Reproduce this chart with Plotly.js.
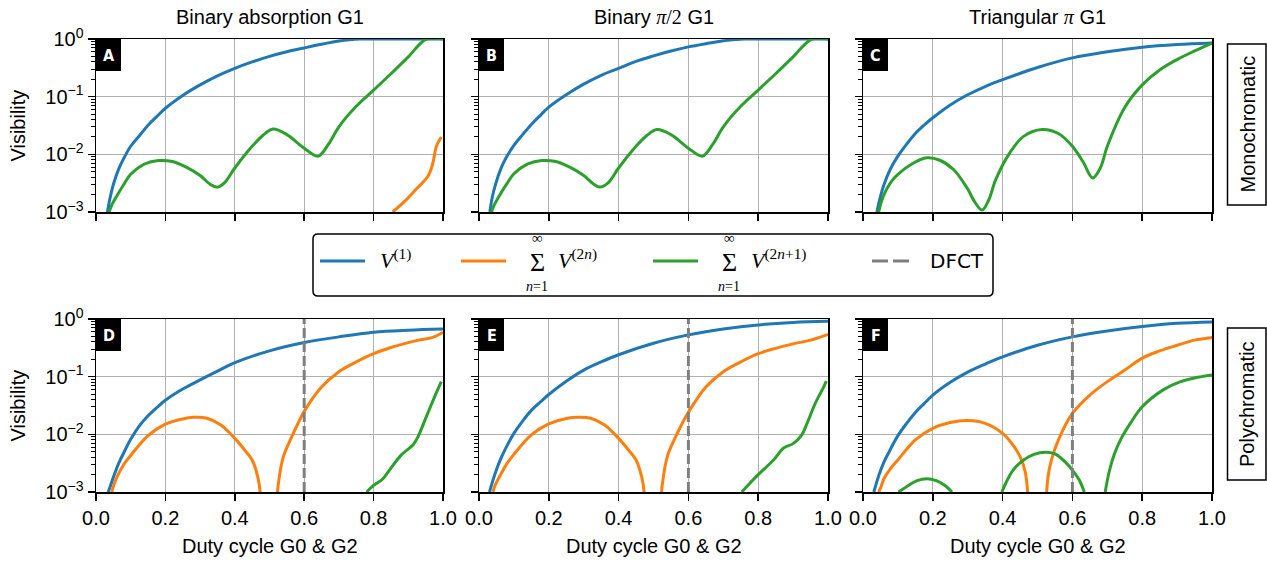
<!DOCTYPE html>
<html>
<head>
<meta charset="utf-8">
<script src="https://cdn.plot.ly/plotly-3.0.1.min.js"></script>
<style>html,body{margin:0;padding:0;background:#fff;}#chart{width:1267px;height:565px;}</style>
</head>
<body>
<div id="chart"></div>
<script>
// ---------------- data ----------------
const columnTitles = ['Binary absorption G1', 'Binary <span style="font-family:Liberation Serif"><i>π</i>/2</span> G1', 'Triangular <span style="font-family:Liberation Serif"><i>π</i></span> G1'];
const rowLabels = ['Monochromatic', 'Polychromatic'];
const panelLetters = ['A', 'B', 'C', 'D', 'E', 'F'];
const xTickVals = [0, 0.2, 0.4, 0.6, 0.8, 1.0];
const yTickVals = [0.001, 0.01, 0.1, 1];
const yTickText = ['10<sup>−3</sup>', '10<sup>−2</sup>', '10<sup>−1</sup>', '10<sup>0</sup>'];
const yMinorTicks = [0.002,0.003,0.004,0.005,0.006,0.007,0.008,0.009,0.02,0.03,0.04,0.05,0.06,0.07,0.08,0.09,0.2,0.3,0.4,0.5,0.6,0.7,0.8,0.9];
const visRange = [0.001, 1];
const dfct = 0.6;

// Panel A
const A_V1_x = [0.033,0.04,0.05,0.065,0.08,0.1,0.125,0.15,0.175,0.2,0.25,0.3,0.35,0.4,0.45,0.5,0.55,0.6,0.65,0.7,0.73,0.76,0.85,1.0];
const A_V1_y = [0.001,0.0017,0.003,0.0055,0.0085,0.0138,0.021,0.032,0.045,0.063,0.105,0.16,0.23,0.31,0.40,0.50,0.60,0.70,0.81,0.92,0.97,1.0,1.0,1.0];
const A_even_x = [0.855,0.89,0.923,0.957,0.971,0.981,0.995];
const A_even_y = [0.001,0.00154,0.0025,0.0042,0.0071,0.0138,0.02];
const A_odd_x = [0.038,0.045,0.06,0.08,0.1,0.14,0.18,0.22,0.26,0.3,0.33,0.35,0.37,0.4,0.45,0.48,0.51,0.55,0.6,0.64,0.67,0.7,0.75,0.8,0.85,0.9,0.952,1.0];
const A_odd_y = [0.001,0.0013,0.0019,0.003,0.0045,0.0068,0.0078,0.0075,0.006,0.0043,0.003,0.0027,0.0032,0.0058,0.0138,0.021,0.0275,0.022,0.0128,0.0093,0.015,0.03,0.068,0.13,0.25,0.49,1.0,1.0];
// Panel B
const B_V1_x = [0.031,0.038,0.048,0.063,0.078,0.1,0.125,0.15,0.175,0.2,0.25,0.3,0.35,0.4,0.45,0.5,0.55,0.6,0.65,0.7,0.73,0.76,0.85,1.0];
const B_V1_y = [0.001,0.0018,0.0031,0.0057,0.0088,0.0143,0.022,0.033,0.047,0.066,0.108,0.165,0.235,0.31,0.41,0.51,0.62,0.73,0.83,0.93,0.97,1.0,1.0,1.0];
const B_odd_x = [0.036,0.043,0.06,0.08,0.1,0.14,0.18,0.22,0.26,0.3,0.33,0.345,0.37,0.4,0.45,0.48,0.51,0.55,0.6,0.64,0.67,0.7,0.75,0.8,0.85,0.9,0.954,1.0];
const B_odd_y = [0.001,0.0013,0.002,0.0031,0.0046,0.0068,0.0078,0.0075,0.006,0.0043,0.003,0.0027,0.0032,0.0058,0.0138,0.021,0.027,0.022,0.0128,0.0093,0.015,0.03,0.068,0.13,0.25,0.49,1.0,1.0];
// Panel C
const C_V1_x = [0.04,0.045,0.055,0.065,0.08,0.1,0.125,0.15,0.175,0.2,0.25,0.3,0.35,0.4,0.5,0.6,0.7,0.8,0.9,1.0];
const C_V1_y = [0.001,0.0014,0.0024,0.0036,0.0058,0.0093,0.015,0.023,0.032,0.043,0.072,0.108,0.15,0.197,0.32,0.47,0.60,0.72,0.80,0.85];
const C_odd_x = [0.045,0.051,0.06,0.08,0.1,0.14,0.183,0.22,0.26,0.3,0.32,0.341,0.36,0.38,0.42,0.46,0.513,0.56,0.6,0.63,0.658,0.68,0.7,0.75,0.8,0.85,0.9,0.95,1.0];
const C_odd_y = [0.001,0.0014,0.002,0.0033,0.0045,0.0068,0.0087,0.0079,0.0054,0.0025,0.0015,0.00108,0.0016,0.0036,0.0105,0.0205,0.027,0.023,0.0138,0.0075,0.0039,0.0058,0.0138,0.065,0.16,0.29,0.44,0.62,0.85];
// Panel D
const D_V1_x = [0.035,0.042,0.05,0.065,0.08,0.1,0.125,0.15,0.175,0.2,0.25,0.3,0.35,0.4,0.5,0.6,0.7,0.8,0.9,1.0];
const D_V1_y = [0.001,0.0013,0.0018,0.0031,0.0048,0.0082,0.014,0.021,0.029,0.039,0.061,0.088,0.125,0.175,0.28,0.39,0.49,0.59,0.64,0.67];
const D_even_x = [0.045,0.051,0.06,0.08,0.1,0.15,0.2,0.25,0.28,0.32,0.36,0.4,0.43,0.45,0.46,0.47,0.479,null,0.519,0.525,0.54,0.56,0.58,0.6,0.65,0.7,0.75,0.8,0.85,0.9,0.93,0.97,1.0];
const D_even_y = [0.001,0.0013,0.0018,0.003,0.0043,0.0095,0.015,0.0185,0.0197,0.019,0.0145,0.0085,0.0052,0.0036,0.0025,0.0014,0.0003,null,0.0003,0.0013,0.0041,0.008,0.0145,0.025,0.066,0.122,0.18,0.25,0.32,0.39,0.43,0.48,0.59];
const D_odd_x = [0.78,0.8,0.827,0.85,0.88,0.914,0.928,0.952,0.976,0.995];
const D_odd_y = [0.001,0.0013,0.0017,0.0026,0.0044,0.0066,0.0091,0.0203,0.045,0.082];
// Panel E
const E_V1_x = [0.03,0.037,0.045,0.06,0.075,0.1,0.125,0.15,0.175,0.2,0.25,0.3,0.35,0.4,0.5,0.6,0.7,0.8,0.9,1.0];
const E_V1_y = [0.001,0.0014,0.002,0.0035,0.0055,0.0104,0.017,0.026,0.036,0.049,0.083,0.13,0.18,0.24,0.38,0.53,0.67,0.79,0.87,0.91];
const E_even_x = [0.04,0.046,0.06,0.08,0.1,0.15,0.2,0.25,0.285,0.32,0.36,0.4,0.43,0.45,0.46,0.47,0.479,null,0.519,0.525,0.54,0.56,0.58,0.6,0.65,0.7,0.75,0.8,0.85,0.9,0.95,1.0];
const E_even_y = [0.001,0.0013,0.0019,0.0031,0.0045,0.0098,0.0152,0.0188,0.0197,0.019,0.0145,0.0085,0.0052,0.0036,0.0025,0.0014,0.0003,null,0.0003,0.0013,0.0042,0.0082,0.0145,0.024,0.066,0.122,0.18,0.25,0.31,0.37,0.43,0.54];
const E_odd_x = [0.753,0.77,0.8,0.844,0.873,0.9,0.925,0.94,0.964,0.988,0.995];
const E_odd_y = [0.001,0.0013,0.002,0.0036,0.0058,0.0069,0.0098,0.0155,0.035,0.067,0.084];
// Panel F
const F_V1_x = [0.031,0.038,0.046,0.06,0.075,0.1,0.125,0.15,0.175,0.2,0.25,0.3,0.35,0.4,0.5,0.6,0.7,0.8,0.9,1.0];
const F_V1_y = [0.001,0.0014,0.002,0.0033,0.005,0.0095,0.0155,0.024,0.034,0.048,0.08,0.12,0.165,0.22,0.35,0.49,0.62,0.74,0.84,0.89];
const F_even_x = [0.045,0.051,0.06,0.08,0.1,0.15,0.2,0.25,0.3,0.35,0.4,0.43,0.45,0.465,0.477,null,0.522,0.53,0.54,0.56,0.6,0.65,0.7,0.75,0.8,0.85,0.9,0.95,1.0];
const F_even_y = [0.001,0.0012,0.0017,0.0026,0.0036,0.008,0.0127,0.016,0.0173,0.0155,0.0104,0.0065,0.0041,0.0022,0.0003,null,0.0003,0.0018,0.0036,0.008,0.023,0.048,0.082,0.13,0.21,0.28,0.35,0.43,0.48];
const F_odd_x = [0.102,0.13,0.155,0.183,0.21,0.235,0.255,null,0.398,0.41,0.43,0.46,0.49,0.522,0.55,0.58,0.6,0.62,0.634,null,0.694,0.705,0.72,0.74,0.766,0.8,0.86,0.908,0.95,1.0];
const F_odd_y = [0.001,0.0013,0.00158,0.0017,0.00158,0.0013,0.001,null,0.001,0.00146,0.0024,0.0036,0.0045,0.0049,0.0046,0.0033,0.0024,0.0016,0.001,null,0.001,0.0022,0.0045,0.0085,0.0155,0.03,0.059,0.081,0.095,0.107];

// ---------------- build ----------------
const W = 1267, H = 565;
const C1 = '#1f77b4', C2 = '#ff7f0e', C3 = '#2ca02c', CG = '#7f7f7f';
const SANS = 'Liberation Sans, Arial, sans-serif';
const SERIF = 'Liberation Serif, DejaVu Serif, serif';
const colPx = [[96, 443], [479, 828], [863, 1212]];
const rowPx = [[39, 212], [319, 492]];
const px = x => x / W, py = y => 1 - y / H;

const panels = [
  {V1: [A_V1_x, A_V1_y], even: [A_even_x, A_even_y], odd: [A_odd_x, A_odd_y], dfct: false},
  {V1: [B_V1_x, B_V1_y], even: null, odd: [B_odd_x, B_odd_y], dfct: false},
  {V1: [C_V1_x, C_V1_y], even: null, odd: [C_odd_x, C_odd_y], dfct: false},
  {V1: [D_V1_x, D_V1_y], even: [D_even_x, D_even_y], odd: [D_odd_x, D_odd_y], dfct: true},
  {V1: [E_V1_x, E_V1_y], even: [E_even_x, E_even_y], odd: [E_odd_x, E_odd_y], dfct: true},
  {V1: [F_V1_x, F_V1_y], even: [F_even_x, F_even_y], odd: [F_odd_x, F_odd_y], dfct: true}
];

const traces = [];
const layout = {
  width: W, height: H, margin: {l: 0, r: 0, t: 0, b: 0},
  paper_bgcolor: '#fff', plot_bgcolor: '#fff', showlegend: false,
  font: {family: SANS, size: 20, color: '#000'},
  shapes: [], annotations: []
};

panels.forEach((p, i) => {
  const n = i + 1, sfx = n === 1 ? '' : String(n);
  const row = Math.floor(i / 3), col = i % 3;
  const xa = 'x' + sfx, ya = 'y' + sfx;
  const line = (c) => ({color: c, width: 3, shape: 'spline', smoothing: 1.0});
  traces.push({x: p.V1[0], y: p.V1[1], xaxis: xa, yaxis: ya, mode: 'lines', line: line(C1), connectgaps: false, hoverinfo: 'skip'});
  if (p.even) traces.push({x: p.even[0], y: p.even[1], xaxis: xa, yaxis: ya, mode: 'lines', line: line(C2), connectgaps: false, hoverinfo: 'skip'});
  if (p.odd) traces.push({x: p.odd[0], y: p.odd[1], xaxis: xa, yaxis: ya, mode: 'lines', line: line(C3), connectgaps: false, hoverinfo: 'skip'});
  if (p.dfct) traces.push({x: [dfct, dfct], y: visRange, xaxis: xa, yaxis: ya, mode: 'lines', line: {color: CG, width: 3, dash: '10px,4px'}, hoverinfo: 'skip'});

  layout['xaxis' + sfx] = {
    domain: [px(colPx[col][0]), px(colPx[col][1])], anchor: ya, range: [0, 1],
    tickmode: 'array', tickvals: xTickVals, tickformat: '.1f',
    showticklabels: row === 1, ticks: 'outside', ticklen: 7, tickwidth: 1.5, tickcolor: '#000',
    showline: true, linecolor: '#000', linewidth: 1.5, mirror: true,
    showgrid: true, gridcolor: '#b0b0b0', gridwidth: 1, zeroline: false,
    tickfont: {family: SANS, size: 20, color: '#000'}, fixedrange: true
  };
  layout['yaxis' + sfx] = {
    type: 'log', domain: [py(rowPx[row][1]), py(rowPx[row][0])], anchor: xa, range: [-3, 0],
    tickmode: 'array', tickvals: yTickVals, ticktext: yTickText,
    showticklabels: col === 0, ticks: 'outside', ticklen: 7, tickwidth: 1.5, tickcolor: '#000',
    minor: {tickmode: 'array', tickvals: yMinorTicks, ticks: 'outside', ticklen: 4, tickwidth: 1, tickcolor: '#000', showgrid: false},
    showline: true, linecolor: '#000', linewidth: 1.5, mirror: true,
    showgrid: true, gridcolor: '#b0b0b0', gridwidth: 1, zeroline: false,
    tickfont: {family: SANS, size: 20, color: '#000'}, fixedrange: true
  };
  // panel letter box
  const boxW = 25 / (colPx[col][1] - colPx[col][0]);
  const boxH = 32 / (rowPx[row][1] - rowPx[row][0]);
  layout.shapes.push({type: 'rect', xref: xa + ' domain', yref: ya + ' domain', x0: 0, x1: boxW, y0: 1 - boxH, y1: 1,
    fillcolor: '#000', line: {width: 0}, layer: 'above'});
  layout.annotations.push({xref: xa + ' domain', yref: ya + ' domain', x: boxW / 2, y: 1 - boxH / 2,
    text: '<b>' + panelLetters[i] + '</b>', showarrow: false, xanchor: 'center', yanchor: 'middle',
    font: {family: 'DejaVu Sans Condensed, DejaVu Sans, sans-serif', size: 16, color: '#fff'}});
});

// column titles and x titles
colPx.forEach((c, j) => {
  layout.annotations.push({xref: 'paper', yref: 'paper', x: px((c[0] + c[1]) / 2), y: py(17),
    text: columnTitles[j], showarrow: false, xanchor: 'center', yanchor: 'middle', font: {family: SANS, size: 20, color: '#000'}});
  layout.annotations.push({xref: 'paper', yref: 'paper', x: px((c[0] + c[1]) / 2), y: py(546),
    text: 'Duty cycle G0 &amp; G2', showarrow: false, xanchor: 'center', yanchor: 'middle', font: {family: SANS, size: 20, color: '#000'}});
});
// y titles
rowPx.forEach(r => {
  layout.annotations.push({xref: 'paper', yref: 'paper', x: px(17), y: py((r[0] + r[1]) / 2), textangle: -90,
    text: 'Visibility', showarrow: false, xanchor: 'center', yanchor: 'middle', font: {family: SANS, size: 20, color: '#000'}});
});
// row labels in boxes
const rowBoxes = [[44, 205], [328, 480]];
rowBoxes.forEach((b, k) => {
  layout.shapes.push({type: 'rect', xref: 'paper', yref: 'paper', x0: px(1227.5), x1: px(1266), y0: py(b[1]), y1: py(b[0]),
    line: {color: '#000', width: 1.5}, fillcolor: '#fff'});
  layout.annotations.push({xref: 'paper', yref: 'paper', x: px(1247), y: py((b[0] + b[1]) / 2), textangle: -90,
    text: rowLabels[k], showarrow: false, xanchor: 'center', yanchor: 'middle', font: {family: SANS, size: 20, color: '#000'}});
});

// legend box (rounded)
(function () {
  const x0 = 313, x1 = 993, y0 = 234, y1 = 296, r = 5;
  const P = (x, y) => px(x).toFixed(5) + ',' + py(y).toFixed(5);
  const path = 'M' + P(x0 + r, y0) + ' L' + P(x1 - r, y0) + ' Q' + P(x1, y0) + ' ' + P(x1, y0 + r) +
    ' L' + P(x1, y1 - r) + ' Q' + P(x1, y1) + ' ' + P(x1 - r, y1) + ' L' + P(x0 + r, y1) +
    ' Q' + P(x0, y1) + ' ' + P(x0, y1 - r) + ' L' + P(x0, y0 + r) + ' Q' + P(x0, y0) + ' ' + P(x0 + r, y0) + ' Z';
  layout.shapes.push({type: 'path', xref: 'paper', yref: 'paper', path: path, line: {color: '#000', width: 1.5}, fillcolor: '#fff'});
  const seg = (xa, xb, c, dash) => layout.shapes.push({type: 'line', xref: 'paper', yref: 'paper', x0: px(xa), x1: px(xb), y0: py(261), y1: py(261),
    line: {color: c, width: 3, dash: dash || 'solid'}});
  seg(320, 365, C1); seg(461, 506, C2); seg(653, 698, C3); seg(872, 913, CG, '16px,5px');
  const ann = (x, y, text, size, fam, anchor) => layout.annotations.push({xref: 'paper', yref: 'paper', x: px(x), y: py(y), text: text,
    showarrow: false, xanchor: anchor || 'left', yanchor: 'middle', font: {family: fam, size: size, color: '#000'}});
  ann(378, 259, '<i>V</i><sup>(1)</sup>', 22, SERIF);
  [537, 729].forEach(cx => {
    ann(cx, 238, '∞', 15, SERIF, 'center');
    ann(cx, 262, 'Σ', 26, SERIF, 'center');
    ann(cx, 286, '<i>n</i>=1', 14, SERIF, 'center');
  });
  ann(556, 259, '<i>V</i><sup>(2<i>n</i>)</sup>', 22, SERIF);
  ann(749, 259, '<i>V</i><sup>(2<i>n</i>+1)</sup>', 22, SERIF);
  ann(928, 261, 'DFCT', 20, 'DejaVu Sans, sans-serif');
})();

Plotly.newPlot('chart', traces, layout, {staticPlot: true, displayModeBar: false});
</script>
</body>
</html>
